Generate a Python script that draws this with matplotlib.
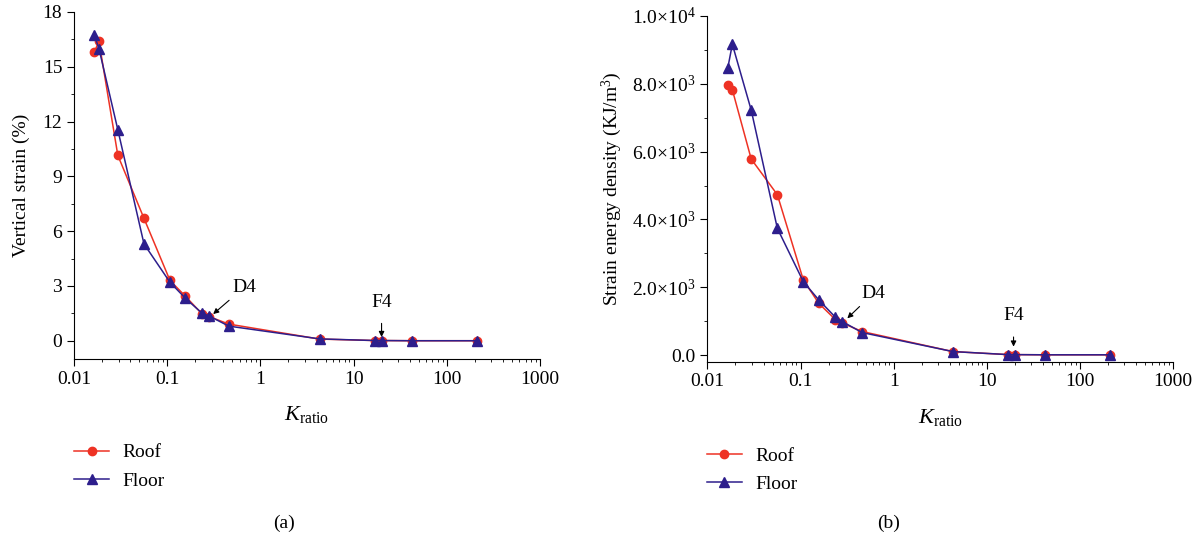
import matplotlib
matplotlib.use('Agg')
import matplotlib.pyplot as plt
import matplotlib.ticker as ticker

plt.rcParams['font.family'] = ['Liberation Serif', 'DejaVu Serif']
plt.rcParams['mathtext.fontset'] = 'custom'
plt.rcParams['mathtext.rm'] = 'Liberation Serif'
plt.rcParams['mathtext.it'] = 'Liberation Serif:italic'
plt.rcParams['font.size'] = 14

# ----------------------------------------------------------------------
# Data
# ----------------------------------------------------------------------
k_ratio = [0.0165, 0.0185, 0.0295, 0.0563, 0.107, 0.157, 0.237, 0.282,
           0.458, 4.32, 17.1, 19.95, 42.2, 213]

strain_roof  = [15.8, 16.4, 10.15, 6.7, 3.3, 2.43, 1.46, 1.32,
                0.91, 0.09, 0.01, 0.01, 0.0, 0.0]
strain_floor = [16.73, 16.0, 11.55, 5.3, 3.2, 2.32, 1.5, 1.35,
                0.8, 0.1, 0.01, 0.01, 0.0, 0.0]

energy_roof  = [7960, 7820, 5780, 4730, 2220, 1530, 1050, 950,
                700, 110, 20, 20, 15, 15]
energy_floor = [8450, 9160, 7220, 3740, 2170, 1630, 1120, 990,
                670, 110, 20, 20, 15, 15]

c_roof = '#ee3224'
c_floor = '#2d1e8c'

fig = plt.figure(figsize=(12.04, 5.4), dpi=100)
ax1 = fig.add_axes([0.0615, 0.3352, 0.3870, 0.6426])
ax2 = fig.add_axes([0.5876, 0.3302, 0.3866, 0.6407])


def style_axis(ax):
    ax.set_xscale('log')
    ax.set_xlim(0.01, 1000)
    ax.spines['top'].set_visible(False)
    ax.spines['right'].set_visible(False)
    ax.tick_params(which='major', direction='out', length=5, width=0.8,
                   labelsize=14)
    ax.tick_params(which='minor', direction='out', length=2.5, width=0.6)
    ax.xaxis.set_major_locator(ticker.LogLocator(base=10, numticks=10))
    ax.xaxis.set_minor_locator(ticker.LogLocator(base=10, subs=range(2, 10), numticks=10))
    ax.xaxis.set_major_formatter(ticker.FuncFormatter(lambda v, p: f'{v:g}'))
    ax.set_xlabel(r'$K_{\mathrm{ratio}}$', fontsize=16, labelpad=12)


def add_legend(ax, x, y):
    ax.legend(loc='upper left', bbox_to_anchor=(x, y),
              bbox_transform=fig.transFigure, frameon=False, fontsize=14,
              handlelength=1.8, labelspacing=0.55, handletextpad=0.7,
              borderpad=0, borderaxespad=0)


# --- (a) Vertical strain ---------------------------------------------
ax1.plot(k_ratio, strain_roof, color=c_roof, lw=1.1, marker='o', ms=6,
         label='Roof')
ax1.plot(k_ratio, strain_floor, color=c_floor, lw=1.1, marker='^', ms=7,
         label='Floor')
style_axis(ax1)
ax1.set_ylim(-1, 18)
ax1.set_yticks([0, 3, 6, 9, 12, 15, 18])
ax1.yaxis.set_minor_locator(ticker.MultipleLocator(1.5))
ax1.set_ylabel('Vertical strain (%)', labelpad=9)
ax1.annotate('D4', xy=(0.311, 1.46), xytext=(0.5, 2.93), va='center',
             ha='left', fontsize=14,
             arrowprops=dict(arrowstyle='-|>', color='black', lw=0.8,
                             shrinkA=2, shrinkB=0, mutation_scale=8))
ax1.annotate('F4', xy=(19.95, 0.2), xytext=(19.95, 2.1), va='center',
             ha='center', fontsize=14,
             arrowprops=dict(arrowstyle='-|>', color='black', lw=0.8,
                             shrinkA=7, shrinkB=0, mutation_scale=8))
add_legend(ax1, 0.0615, 0.178)
fig.text(284 / 1204, 1 - 523 / 540, '(a)', ha='center', va='center',
         fontsize=14)

# --- (b) Strain energy density ----------------------------------------
ax2.plot(k_ratio, energy_roof, color=c_roof, lw=1.1, marker='o', ms=6,
         label='Roof')
ax2.plot(k_ratio, energy_floor, color=c_floor, lw=1.1, marker='^', ms=7,
         label='Floor')
style_axis(ax2)
ax2.set_ylim(-188, 10000)
ax2.set_yticks([0, 2000, 4000, 6000, 8000, 10000])
ax2.yaxis.set_minor_locator(ticker.MultipleLocator(1000))


def sci_fmt(v, pos):
    if v == 0:
        return '0.0'
    exp = len(str(int(v))) - 1
    mant = v / 10 ** exp
    return rf'${mant:.1f}{{\times}}10^{{{exp}}}$'


ax2.yaxis.set_major_formatter(ticker.FuncFormatter(sci_fmt))
ax2.set_ylabel(r'Strain energy density (KJ/m$^3$)', labelpad=6)
ax2.annotate('D4', xy=(0.318, 1090), xytext=(0.45, 1825), va='center',
             ha='left', fontsize=14,
             arrowprops=dict(arrowstyle='-|>', color='black', lw=0.8,
                             shrinkA=2, shrinkB=0, mutation_scale=8))
ax2.annotate('F4', xy=(19.4, 255), xytext=(19.4, 1158), va='center',
             ha='center', fontsize=14,
             arrowprops=dict(arrowstyle='-|>', color='black', lw=0.8,
                             shrinkA=7, shrinkB=0, mutation_scale=8))
add_legend(ax2, 0.5872, 0.172)
fig.text(889 / 1204, 1 - 523 / 540, '(b)', ha='center', va='center',
         fontsize=14)

fig.savefig('out.png', dpi=100)
